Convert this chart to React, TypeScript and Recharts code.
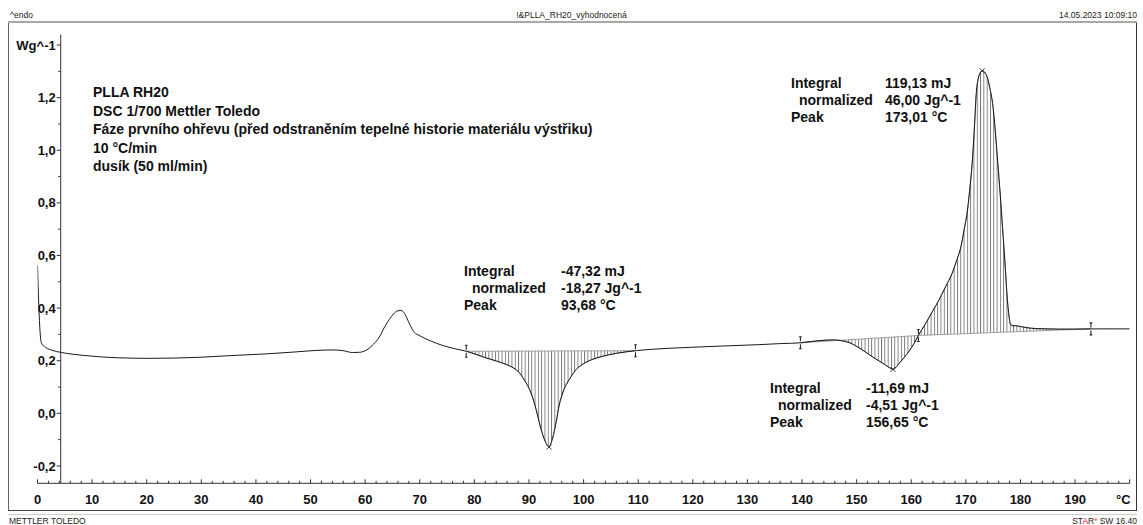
import React from 'react';
import { ComposedChart, Line, Area, Scatter, XAxis, YAxis, ReferenceLine } from 'recharts';

// DSC curve: [temperature °C, heat flow W/g]
const CURVE: [number, number][] = [
  [0, 0.562], [0.2, 0.43], [0.7, 0.268], [1.5, 0.25], [2.2, 0.243], [3.5, 0.235], [5.3, 0.228], [8, 0.221],
  [11.3, 0.215], [15, 0.211], [20.5, 0.209], [25, 0.21], [29.7, 0.213], [35, 0.219], [41.9, 0.226], [47, 0.233],
  [51, 0.239], [54.1, 0.241], [56, 0.238], [57.7, 0.231], [59, 0.232], [60.2, 0.24], [61.5, 0.262], [62.6, 0.29],
  [63.6, 0.33], [64.4, 0.356], [65.2, 0.378], [66, 0.39], [66.6, 0.391], [67.2, 0.38], [68, 0.345], [69, 0.308],
  [69.9, 0.296], [72, 0.275], [74.2, 0.258], [76.5, 0.245], [78.5, 0.236], [80.3, 0.224], [82.1, 0.211], [84, 0.199],
  [85.8, 0.186], [87.2, 0.172], [88.2, 0.155], [89.2, 0.125], [90.1, 0.091], [90.9, 0.045], [91.6, -0.01], [92.2, -0.06],
  [92.8, -0.098], [93.3, -0.12], [93.68, -0.128], [94, -0.115], [94.5, -0.08], [95, -0.03], [95.5, 0.028], [96.3, 0.085],
  [97.4, 0.129], [98.5, 0.163], [99.8, 0.186], [101.5, 0.204], [103.5, 0.217], [106, 0.228], [109.5, 0.238], [113, 0.244],
  [117.5, 0.249], [122, 0.253], [127, 0.257], [132, 0.261], [136, 0.265], [139.7, 0.268], [142.5, 0.275], [145.6, 0.279],
  [148.6, 0.269], [150.2, 0.252], [151.7, 0.232], [153, 0.213], [154.1, 0.199], [155.3, 0.183], [156.3, 0.17], [156.65, 0.167],
  [157.2, 0.175], [157.8, 0.19], [158.7, 0.212], [159.6, 0.236], [160.5, 0.265], [161.3, 0.296], [162, 0.32], [162.7, 0.344],
  [163.9, 0.388], [165.1, 0.432], [166.3, 0.482], [167.5, 0.533], [168.3, 0.58], [169.1, 0.634], [169.7, 0.7], [170.3, 0.773],
  [170.8, 0.87], [171.2, 0.963], [171.6, 1.1], [171.9, 1.215], [172.3, 1.275], [172.7, 1.297], [173.01, 1.302], [173.5, 1.295],
  [173.9, 1.278], [174.4, 1.235], [174.9, 1.177], [175.4, 1.07], [175.8, 0.963], [176.3, 0.83], [176.7, 0.71], [177.2, 0.56],
  [177.6, 0.432], [177.9, 0.37], [178.2, 0.337], [178.7, 0.333], [179.1, 0.333], [180, 0.33], [181, 0.326], [183, 0.322],
  [185, 0.321], [187, 0.32], [190, 0.32], [192.9, 0.321], [196, 0.321], [200, 0.321],
];

// integration limits (°C)
const INTEGRATIONS: { key: string; from: number; to: number }[] = [
  { key: 'hA', from: 78.5, to: 109.5 },
  { key: 'hB', from: 139.7, to: 161.3 },
  { key: 'hC', from: 161.3, to: 192.9 },
];
const PEAK_TEMPS = [93.68, 156.65, 173.01];

const X_TICKS = Array.from({ length: 101 }, (_, i) => i * 2);
const Y_TICKS = [-0.2, -0.1, 0, 0.1, 0.2, 0.3, 0.4, 0.5, 0.6, 0.7, 0.8, 0.9, 1.0, 1.1, 1.2, 1.3, 1.4];
const Y_UNIT_LABEL = 'Wg^-1';
const X_UNIT_LABEL = '°C';

const INFO_LINES = [
  'PLLA RH20',
  'DSC 1/700 Mettler Toledo',
  'Fáze prvního ohřevu (před odstraněním tepelné historie materiálu výstřiku)',
  '10 °C/min',
  'dusík (50 ml/min)',
];
const RESULT_BLOCKS = [
  { integral: '-47,32 mJ', normalized: '-18,27 Jg^-1', peak: '93,68 °C', left: 464, valLeft: 561, top: 263 },
  { integral: '119,13 mJ', normalized: '46,00 Jg^-1', peak: '173,01 °C', left: 791, valLeft: 885, top: 74.5 },
  { integral: '-11,69 mJ', normalized: '-4,51 Jg^-1', peak: '156,65 °C', left: 770, valLeft: 866, top: 379.5 },
];

// layout
const W = 1143;
const H = 525;
const Y_AXIS_W = 30;
const M = { top: 34.5, right: 13.3, bottom: 11.7, left: 37.5 - Y_AXIS_W };
const X_AXIS_H = 30;
const PLOT_LEFT = M.left + Y_AXIS_W;
const PLOT_W = W - PLOT_LEFT - M.right;
const PLOT_BOTTOM = H - M.bottom - X_AXIS_H;
const X_MAX = 200;
const Y_AXIS_AT = 4.25; // temperature where the y axis line stands
const Y_AXIS_PX = PLOT_LEFT + (Y_AXIS_AT / X_MAX) * PLOT_W;

const valueAt = (t: number) => {
  const p = CURVE.find((c) => c[0] === t);
  return p ? p[1] : 0;
};

const rows = CURVE.map(([T, v]) => {
  const r: any = { T, v };
  INTEGRATIONS.forEach((g) => {
    if (T >= g.from && T <= g.to) {
      const a = valueAt(g.from);
      const b = valueAt(g.to);
      const base = a + ((b - a) * (T - g.from)) / (g.to - g.from);
      r[g.key] = [base, v];
    }
  });
  return r;
});

const limitRows: { T: number; v: number }[] = [];
INTEGRATIONS.forEach((g) => {
  [g.from, g.to].forEach((t) => {
    if (!limitRows.find((l) => l.T === t)) limitRows.push({ T: t, v: valueAt(t) });
  });
});
const peakRows = PEAK_TEMPS.map((t) => ({ T: t, v: valueAt(t) }));

const FONT = '"Liberation Sans", Arial, sans-serif';

const XTick = (props: any) => {
  const { x, payload } = props;
  const val = payload.value as number;
  const major = val % 10 === 0;
  const label = val === X_MAX ? X_UNIT_LABEL : String(val);
  return (
    <g>
      <line x1={x} x2={x} y1={PLOT_BOTTOM} y2={PLOT_BOTTOM - (major ? 4 : 2.5)} stroke="#333" strokeWidth={1} />
      {major && (
        <text
          x={val === X_MAX ? x + 1 : x}
          y={PLOT_BOTTOM + 20.4}
          textAnchor={val === X_MAX ? 'end' : 'middle'}
          fontFamily={FONT}
          fontWeight="bold"
          fontSize={13}
          fill="#111"
        >
          {label}
        </text>
      )}
    </g>
  );
};

const YTick = (props: any) => {
  const { y, payload } = props;
  const val = payload.value as number;
  const tenths = Math.round(val * 10);
  const major = tenths % 2 === 0;
  const label = tenths === 14 ? Y_UNIT_LABEL : val.toFixed(1).replace('.', ',');
  return (
    <g>
      <line x1={Y_AXIS_PX - (major ? 4 : 2.5)} x2={Y_AXIS_PX} y1={y} y2={y} stroke="#333" strokeWidth={1} />
      {major && (
        <text x={Y_AXIS_PX - 5} y={y + 4.6} textAnchor="end" fontFamily={FONT} fontWeight="bold" fontSize={13} fill="#111">
          {label}
        </text>
      )}
    </g>
  );
};

const PeakMark = (props: any) => {
  const { cx, cy } = props;
  return (
    <path d={`M${cx - 2.5},${cy - 2.5}L${cx + 2.5},${cy + 2.5}M${cx - 2.5},${cy + 2.5}L${cx + 2.5},${cy - 2.5}`} stroke="#222" strokeWidth={0.9} fill="none" />
  );
};

const LimitMark = (props: any) => {
  const { cx, cy } = props;
  return (
    <path
      d={`M${cx},${cy - 6}L${cx},${cy - 1.5}M${cx},${cy + 1.5}L${cx},${cy + 6}M${cx - 1.3},${cy - 6}L${cx + 1.3},${cy - 6}M${cx - 1.3},${cy + 6}L${cx + 1.3},${cy + 6}`}
      stroke="#222"
      strokeWidth={1.1}
      fill="none"
    />
  );
};

const abs = (l: number, t: number, extra: any = {}): React.CSSProperties => ({
  position: 'absolute',
  left: l,
  top: t,
  whiteSpace: 'pre',
  pointerEvents: 'none',
  ...extra,
});

const small = { fontFamily: FONT, fontSize: 8.5, color: '#222', lineHeight: '10px' };

export default function App() {
  const blockStyle = { fontFamily: FONT, fontWeight: 'bold', fontSize: 14, color: '#111', lineHeight: '17px' };
  return (
    <div style={{ position: 'absolute', left: 0, top: 0, width: W, height: H, background: '#fff', overflow: 'hidden' }}>
      {/* header */}
      <div style={abs(10, 10, small)}>^endo</div>
      <div style={abs(0, 10, { ...small, width: W, textAlign: 'center' })}>!&amp;PLLA_RH20_vyhodnocená</div>
      <div style={abs(0, 10, { ...small, width: 1137, textAlign: 'right' })}>14.05.2023 10:09:10</div>
      {/* frame */}
      <div style={abs(8, 21, { width: 1129, height: 2, background: '#a8a8a8' })} />
      <div style={abs(8, 23, { width: 1, height: 487, background: '#666' })} />
      <div style={abs(1136, 23, { width: 1, height: 487, background: '#333' })} />
      <div style={abs(8, 510, { width: 1129, height: 1, background: '#444' })} />
      <div style={abs(8, 514, { width: 1129, height: 1, background: '#cfcfcf' })} />
      {/* footer */}
      <div style={abs(9, 515.5, small)}>METTLER TOLEDO</div>
      <div style={abs(0, 515.5, { ...small, width: 1137, textAlign: 'right' })}>
        ST<span style={{ color: '#d22' }}>A</span>R
        <span style={{ color: '#d22', fontSize: 5.5, position: 'relative', top: -3 }}>e</span> SW 16.40
      </div>

      <div style={{ position: 'absolute', left: 0, top: 0 }}>
        <ComposedChart width={W} height={H} data={rows} margin={M}>
          <defs>
            <pattern id="hatch" width={3.3} height={10} patternUnits="userSpaceOnUse">
              <line x1={0.5} y1={0} x2={0.5} y2={10} stroke="#3a3a3a" strokeWidth={0.7} />
            </pattern>
          </defs>
          <XAxis
            dataKey="T"
            type="number"
            domain={[0, X_MAX]}
            ticks={X_TICKS}
            interval={0}
            height={X_AXIS_H}
            tickLine={false}
            axisLine={{ stroke: '#333', strokeWidth: 1 }}
            tick={<XTick />}
            allowDataOverflow
          />
          <YAxis
            type="number"
            domain={[-0.266, 1.44]}
            ticks={Y_TICKS}
            interval={0}
            width={Y_AXIS_W}
            tickLine={false}
            axisLine={false}
            tick={<YTick />}
            allowDataOverflow
          />
          <ReferenceLine x={Y_AXIS_AT} stroke="#333" strokeWidth={1} />
          {INTEGRATIONS.map((g) => (
            <Area
              key={g.key}
              dataKey={g.key}
              type="monotone"
              fill="url(#hatch)"
              fillOpacity={1}
              stroke="#888"
              strokeWidth={0.8}
              isAnimationActive={false}
              dot={false}
              activeDot={false}
            />
          ))}
          <Line dataKey="v" type="monotone" stroke="#1a1a1a" strokeWidth={1} dot={false} activeDot={false} isAnimationActive={false} />
          <Scatter data={limitRows} dataKey="v" shape={<LimitMark />} isAnimationActive={false} />
          <Scatter data={peakRows} dataKey="v" shape={<PeakMark />} isAnimationActive={false} />
        </ComposedChart>
      </div>

      {/* info text */}
      <div style={abs(93, 83, { fontFamily: FONT, fontWeight: 'bold', fontSize: 14, color: '#111', lineHeight: '18.5px' })}>
        {INFO_LINES.map((l) => (
          <div key={l}>{l}</div>
        ))}
      </div>
      {RESULT_BLOCKS.map((b) => (
        <React.Fragment key={b.peak}>
          <div style={abs(b.left, b.top, blockStyle)}>
            <div>Integral</div>
            <div style={{ paddingLeft: 8 }}>normalized</div>
            <div>Peak</div>
          </div>
          <div style={abs(b.valLeft, b.top, blockStyle)}>
            <div>{b.integral}</div>
            <div>{b.normalized}</div>
            <div>{b.peak}</div>
          </div>
        </React.Fragment>
      ))}
    </div>
  );
}
